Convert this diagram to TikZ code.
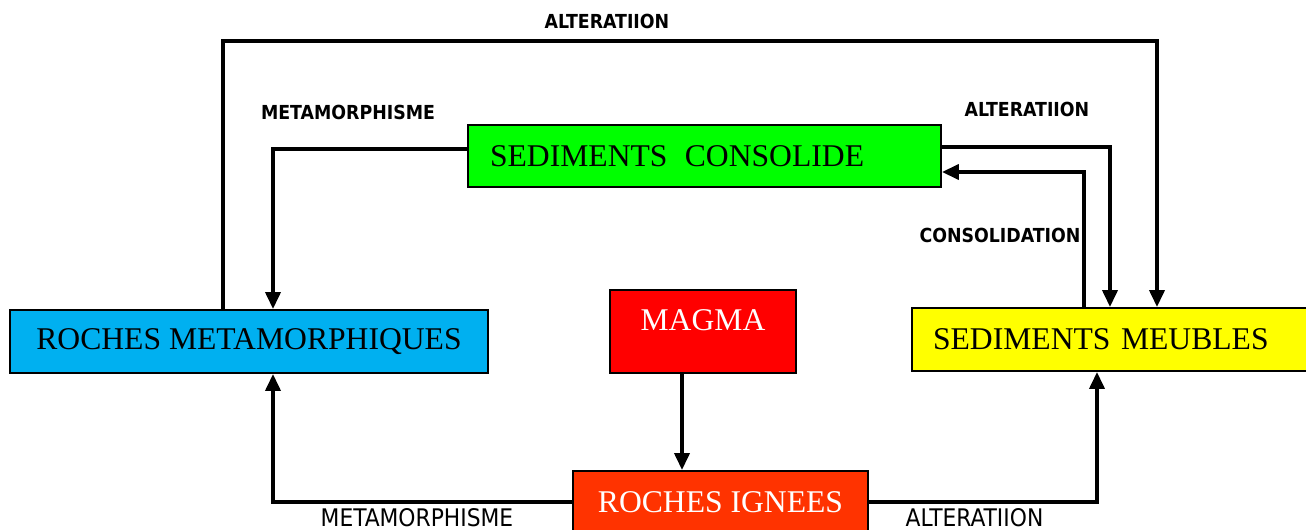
\documentclass[tikz,border=0pt]{standalone}
\usepackage{fontspec}
\setmainfont{Liberation Serif}
\newfontfamily\lblfont{DejaVu Sans Condensed}
\usetikzlibrary{arrows.meta}
\definecolor{consgreen}{HTML}{00FF00}
\definecolor{metablue}{HTML}{00B0F0}
\definecolor{magmared}{HTML}{FF0000}
\definecolor{ignorange}{HTML}{FF3300}
\definecolor{meubyellow}{HTML}{FFFF00}
\begin{document}
\begin{tikzpicture}[x=0.02cm, y=-0.02cm,
          box/.style = {draw, line width=1.1pt, inner sep=0pt, font=\fontsize{18}{21}\selectfont},
          flow/.style = {line width=2.1pt, -{Triangle[width=0.3cm, length=0.34cm]}},
          lbl/.style = {inner sep=0pt, font=\lblfont\bfseries\fontsize{11}{13}\selectfont},
          lblb/.style = {inner sep=0pt, font=\lblfont\fontsize{13.8}{16}\selectfont}]
          \useasboundingbox (0,0) rectangle (1306,530);
          \clip (0,0) rectangle (1306,530);
          % boxes
          \node[box, fill=consgreen, minimum width=9.46cm, minimum height=1.24cm,
                inner xsep=0.44cm, text width=8.58cm, align=left] (cons) at (704.5,156) {SEDIMENTS\hspace{0.55em}CONSOLIDE};
          \node[box, fill=metablue, minimum width=9.56cm, minimum height=1.26cm] (meta) at (249,341.5) {ROCHES METAMORPHIQUES};
          \node[box, fill=magmared, text=white, minimum width=3.72cm, minimum height=1.66cm,
                text height=0.44cm, text depth=0.46cm] (magma) at (703,331.5) {MAGMA};
          \node[box, fill=ignorange, text=white, minimum width=5.9cm, minimum height=1.24cm] (ign) at (720.5,502) {ROCHES IGNEES};
          \node[box, fill=meubyellow, minimum width=8.36cm, minimum height=1.26cm,
                inner xsep=0.42cm, text width=7.52cm, align=left] (meub) at (1121,339.5) {SEDIMENTS MEUBLES};
          % corners
          \coordinate (topL) at (223,41);
          \coordinate (topR) at (1157,41);
          \coordinate (metaC) at (273,149);
          \coordinate (altC) at (1110,147);
          \coordinate (conC) at (1084,172);
          \coordinate (magC) at (682,0);
          \coordinate (botL) at (273,502);
          \coordinate (botR) at (1097,502);
          % connectors
          \draw[flow] (meta.north -| topL) -- (topL) -- (topR) -- (topR |- meub.north);
          \draw[flow] (cons.west |- metaC) -- (metaC) -- (metaC |- meta.north);
          \draw[flow] (cons.east |- altC) -- (altC) -- (altC |- meub.north);
          \draw[flow] (conC |- meub.north) -- (conC) -- (cons.east |- conC);
          \draw[flow] (magma.south -| magC) -- (ign.north -| magC);
          \draw[flow] (ign.west) -- (botL) -- (botL |- meta.south);
          \draw[flow] (ign.east) -- (botR) -- (botR |- meub.south);
          % labels
          \node[lbl] (altTop) at (607,21) {ALTERATIION};
          \node[lbl] (metaTop) at (348,112) {METAMORPHISME};
          \node[lbl] (altRight) at (1027,109.5) {ALTERATIION};
          \node[lbl] (consLbl) at (1000,235) {CONSOLIDATION};
          \node[lblb] (metaBot) at (417,517.5) {METAMORPHISME};
          \node[lblb] (altBot) at (974.5,517.5) {ALTERATIION};
        \end{tikzpicture}
\end{document}
